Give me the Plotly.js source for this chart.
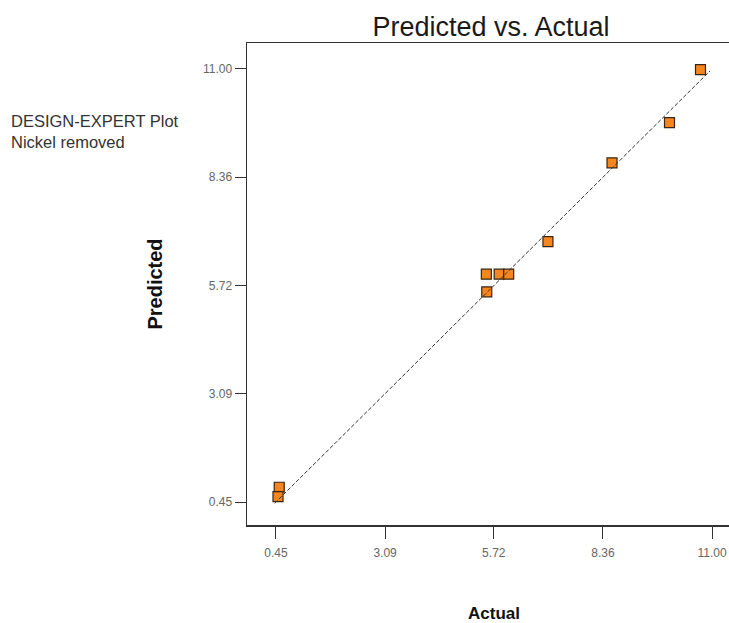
<!DOCTYPE html>
<html>
<head>
<meta charset="utf-8">
<script src="https://cdn.plot.ly/plotly-3.0.1.min.js"></script>
<style>
html,body{margin:0;padding:0;overflow:hidden;background:#fff;}
#chart{width:745px;height:623px;}
</style>
</head>
<body>
<div id="chart"></div>
<script>
// Data
var actual    = [10.72, 9.97, 8.58, 7.03, 5.54, 5.85, 6.08, 5.55, 0.53, 0.50];
var predicted = [10.98, 9.69, 8.71, 6.79, 6.00, 6.00, 6.00, 5.57, 0.81, 0.58];
var fitX = [0.42, 10.95];
var fitY = [0.42, 10.95];
var tickVals = [0.45, 3.09, 5.72, 8.36, 11.00];
var tickText = ["0.45", "3.09", "5.72", "8.36", "11.00"];

var points = {
  x: actual, y: predicted, type: 'scatter', mode: 'markers',
  marker: {symbol: 'square', size: 10, color: '#F5861F', line: {color: '#3b2412', width: 1.2}},
  hoverinfo: 'x+y', showlegend: false
};
var fit = {
  x: fitX, y: fitY, type: 'scatter', mode: 'lines',
  line: {color: '#333333', width: 1, dash: '4px,2px'},
  hoverinfo: 'skip', showlegend: false
};

var FF = 'Arial, Liberation Sans, sans-serif';
var axisFont = {family: FF, size: 12, color: '#666666'};

var layout = {
  width: 745, height: 623,
  margin: {l: 247, r: 4, t: 43, b: 98},
  paper_bgcolor: '#ffffff', plot_bgcolor: '#ffffff',
  font: {family: FF, color: '#222'},
  title: {text: 'Predicted vs. Actual', font: {family: FF, size: 27, color: '#1a1a1a'},
          xref: 'paper', x: (491 - 247) / 494, xanchor: 'center', yref: 'container', y: 1 - 27/623, yanchor: 'middle'},
  xaxis: {
    range: [-0.25, 11.7], tickmode: 'array', tickvals: tickVals, ticktext: tickText,
    ticks: 'outside', ticklen: 12, tickcolor: '#333', tickwidth: 1,
    showline: true, mirror: true, linecolor: '#333', linewidth: 1.5,
    showgrid: false, zeroline: false, tickfont: axisFont, ticklabelstandoff: 4,
    title: {text: 'Actual', font: {family: FF, size: 17, color: '#111', weight: 'bold'}, standoff: 48}
  },
  yaxis: {
    range: [-0.11, 11.63], tickmode: 'array', tickvals: tickVals, ticktext: tickText,
    ticks: 'outside', ticklen: 11, tickcolor: '#333', tickwidth: 1,
    showline: true, mirror: true, linecolor: '#333', linewidth: 1.5,
    showgrid: false, zeroline: false, tickfont: axisFont,
    title: {text: 'Predicted', font: {family: FF, size: 20, color: '#111', weight: 'bold'}, standoff: 35}
  },
  annotations: [{
    text: 'DESIGN-EXPERT Plot<br>Nickel removed', showarrow: false, align: 'left',
    xref: 'paper', yref: 'paper', x: (9 - 247) / 494, xanchor: 'left',
    y: (525 - 131) / 482, yanchor: 'middle',
    font: {family: FF, size: 16.5, color: '#333'}
  }]
};

Plotly.newPlot('chart', [points, fit], layout, {displayModeBar: false, staticPlot: true});
</script>
</body>
</html>
